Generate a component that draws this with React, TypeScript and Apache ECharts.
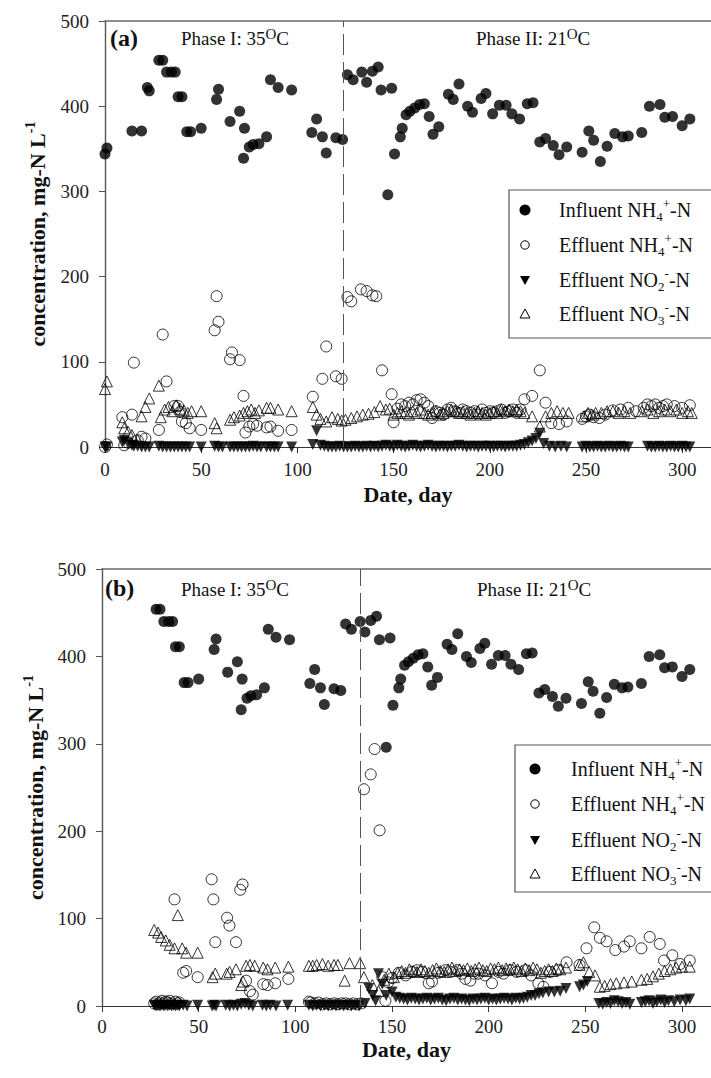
import React, { useEffect, useRef } from 'react';
import * as echarts from 'echarts';

const FONT = 'Liberation Serif';

const xTickValues = [0, 50, 100, 150, 200, 250, 300];
const phaseSplitA = 124;
const phaseSplitB = 133.5;

// Influent NH4+-N  [day, mg-N/L]
const influent: [number, number][] = [
  [0, 344], [1, 351], [14, 371], [19, 371], [22, 422], [23, 418], [28, 454], [30, 454],
  [32, 440], [34.5, 440], [36.5, 440], [38, 411], [40, 411], [42.5, 370], [44.5, 370],
  [50, 374], [58, 408], [59, 420], [65, 382], [70, 394], [72, 339], [72.5, 374],
  [75, 352], [77, 355], [80, 356], [84, 364], [86, 431], [90, 422], [97, 419],
  [107.5, 369], [110, 385], [113, 364], [115, 345], [120, 363], [123.5, 361],
  [126, 437], [129, 431], [133.5, 440], [136, 428], [139, 441], [142, 446], [143.5, 419],
  [147, 296], [149, 421], [150.5, 344], [153.5, 364], [154.5, 374], [156.5, 390],
  [158.5, 394], [161, 398], [163.5, 402], [166, 403], [168.5, 388], [170.5, 367],
  [173.5, 376], [178.5, 414], [181, 408], [184, 426], [188.5, 400], [191, 393],
  [195.5, 409], [198, 415], [201.5, 391], [205, 401], [208.5, 401], [211.5, 391],
  [215.5, 385], [219.5, 403], [222.5, 404], [226, 358], [229, 362], [233, 354],
  [236, 343], [240, 352], [248, 346], [251.5, 371], [254, 360], [257.5, 335],
  [261, 353], [265, 368], [269, 364], [272, 365], [279, 369], [283, 400],
  [288.5, 402], [291, 387], [295, 388], [300, 377], [304, 385],
];

// (a) Effluent NH4+-N
const aEffNH4: [number, number][] = [
  [0, 0], [1, 3], [9, 35], [10, 2], [12, 5], [14, 38], [15, 99], [17, 8], [19, 12], [21, 10],
  [28, 20], [30, 132], [32, 77], [36, 48], [38, 48], [39, 41], [40, 30], [42, 28], [44, 22],
  [50, 20], [57, 137], [58, 177], [59, 147], [65, 103], [66, 111], [70, 102], [72, 60],
  [73, 17], [75, 24], [77, 27], [79, 25], [84, 23], [86, 24], [90, 19], [97, 20],
  [108, 59], [113, 80], [115, 118], [120, 83], [123, 80], [126, 176], [128, 171],
  [133, 185], [136, 183], [139, 178], [141, 177], [144, 90], [149, 62], [150, 29],
  [152, 45], [154, 50], [156, 48], [158, 52], [160, 50], [162, 55], [164, 56], [166, 52],
  [168, 48], [170, 34], [172, 42], [174, 40], [176, 38], [178, 44], [180, 46], [182, 42],
  [184, 40], [186, 44], [188, 42], [190, 40], [192, 42], [194, 38], [196, 44], [198, 40],
  [200, 42], [202, 40], [204, 42], [206, 44], [208, 40], [210, 42], [212, 44], [214, 40],
  [216, 44], [218, 56], [222, 60], [226, 90], [229, 52], [232, 28], [236, 27], [240, 30],
  [248, 33], [250, 36], [252, 38], [254, 35], [257, 34], [260, 38], [264, 43], [268, 44],
  [272, 46], [276, 42], [280, 46], [282, 50], [284, 48], [286, 50], [288, 46], [290, 48],
  [292, 50], [296, 48], [300, 46], [304, 49],
];

// (a) Effluent NO2--N
const aEffNO2: [number, number][] = [
  [0, 0], [1, 0], [9, 6], [10, 8], [12, 4], [14, 2], [15, 1], [17, 1], [19, 0], [21, 0],
  [23, 0], [28, 1], [30, 0], [32, 0], [34, 0], [36, 0], [38, 0], [40, 0], [42, 0], [44, 0],
  [50, 0], [57, 1], [59, 0], [61, 0], [65, 0], [67, 0], [69, 0], [71, 0], [73, 0], [75, 0],
  [77, 1], [79, 0], [81, 0], [84, 0], [86, 0], [88, 0], [90, 0], [97, 0], [108, 3],
  [110, 19], [112, 2], [114, 1], [116, 0], [118, 0], [120, 0], [122, 1], [124, 0],
  [126, 0], [128, 0], [130, 1], [132, 0], [134, 0], [136, 1], [138, 0], [140, 1],
  [142, 0], [144, 1], [146, 2], [148, 1], [150, 0], [152, 2], [154, 1], [156, 0],
  [158, 1], [160, 2], [162, 1], [164, 0], [166, 1], [168, 2], [170, 1], [172, 0],
  [174, 1], [176, 1], [178, 0], [180, 1], [182, 1], [184, 2], [186, 1], [188, 0],
  [190, 1], [192, 1], [194, 0], [196, 1], [198, 1], [200, 1], [202, 0], [204, 1],
  [206, 1], [208, 0], [210, 1], [212, 1], [214, 1], [216, 2], [218, 3], [220, 5],
  [222, 7], [224, 10], [226, 16], [228, 4], [231, 1], [234, 0], [237, 1], [240, 0],
  [248, 0], [250, 1], [252, 0], [254, 0], [256, 1], [258, 0], [260, 0], [262, 1],
  [264, 0], [266, 0], [268, 1], [270, 0], [272, 0], [282, 1], [284, 0], [286, 0],
  [288, 1], [290, 0], [292, 0], [294, 1], [296, 0], [298, 0], [300, 1], [302, 0], [304, 0],
];

// (a) Effluent NO3--N
const aEffNO3: [number, number][] = [
  [0, 68], [1, 77], [9, 29], [10, 22], [12, 18], [14, 14], [17, 8], [19, 36], [21, 47],
  [23, 57], [28, 72], [29, 35], [31, 44], [33, 47], [35, 42], [37, 49], [39, 45], [41, 43],
  [43, 40], [45, 42], [50, 42], [57, 28], [58, 22], [65, 32], [67, 35], [70, 37], [72, 40],
  [74, 42], [76, 44], [78, 40], [80, 43], [84, 46], [86, 46], [90, 44], [97, 42],
  [108, 47], [110, 38], [112, 33], [115, 30], [118, 35], [121, 33], [123, 31], [125, 32],
  [128, 34], [131, 36], [134, 38], [137, 39], [140, 41], [143, 48], [146, 44], [148, 45],
  [150, 38], [152, 40], [154, 42], [156, 40], [158, 38], [160, 42], [162, 40], [164, 44],
  [166, 40], [168, 38], [170, 40], [172, 42], [174, 38], [176, 40], [178, 42], [180, 44],
  [182, 42], [184, 40], [186, 42], [188, 40], [190, 38], [192, 40], [194, 42], [196, 40],
  [198, 38], [200, 40], [202, 42], [204, 40], [206, 44], [208, 42], [210, 44], [212, 42],
  [214, 44], [216, 42], [218, 40], [222, 36], [226, 24], [229, 36], [232, 40], [235, 42],
  [238, 40], [241, 40], [249, 36], [251, 40], [253, 38], [255, 40], [258, 40], [261, 42],
  [264, 42], [267, 40], [270, 42], [273, 40], [279, 42], [282, 44], [285, 40], [288, 42],
  [291, 44], [294, 42], [297, 44], [300, 40], [303, 42], [305, 40],
];

// (b) Effluent NH4+-N
const bEffNH4: [number, number][] = [
  [27, 3], [28, 5], [29, 2], [30, 4], [31, 6], [32, 3], [33, 5], [34, 4], [35, 6], [36, 3],
  [37.5, 122], [38, 5], [39, 3], [40, 4], [42, 38], [43.5, 40], [49.5, 33], [56.7, 145],
  [57.6, 122], [58.6, 73], [64.7, 101], [65.9, 92], [69.3, 73], [71.5, 133], [72.7, 139],
  [74.5, 29], [76.5, 17], [78, 13], [83.4, 25], [85.6, 24], [89.6, 26], [96.4, 31],
  [107, 5], [108, 4], [110, 3], [112, 4], [114, 2], [116, 3], [118, 2], [120, 3], [122, 2],
  [124, 3], [126, 3], [128, 2], [130, 3], [132, 2], [134, 3], [135.5, 248], [139, 265],
  [141, 294], [143.6, 201], [145, 33], [146.6, 6], [148, 27], [150, 32], [153.5, 38],
  [157, 35], [160.4, 39], [163, 41], [165.6, 39], [169, 26], [170.7, 28], [174, 38],
  [177.6, 41], [180.2, 39], [183.6, 41], [186, 37], [188, 31], [190.5, 29], [192.5, 37],
  [194.8, 37], [198.2, 35], [201.7, 26], [205.1, 39], [207.7, 37], [211.1, 41],
  [214.5, 39], [218.9, 41], [222, 35], [225.7, 26], [228.3, 22], [231.8, 39], [236, 41],
  [240.3, 50], [247, 47], [250.6, 66], [254.6, 90], [257.5, 78], [261, 74], [265.5, 64],
  [270, 68], [273, 74], [279, 66], [283.3, 79], [288.5, 71], [290.7, 52], [295, 58],
  [299, 48], [304, 52],
];

// (b) Effluent NO2--N
const bEffNO2: [number, number][] = [
  [27, 1], [28, 0], [29, 1], [30, 0], [31, 1], [32, 0], [33, 1], [34, 0], [35, 1], [36, 0],
  [37, 1], [38, 0], [39, 1], [40, 0], [42, 1], [44, 0], [49.5, 1], [57, 0], [58, 1], [59, 0],
  [64, 1], [66, 0], [68, 1], [70, 0], [72, 2], [74, 3], [76, 1], [78, 0], [83, 1], [85, 0],
  [87, 1], [90, 0], [96, 1], [107, 1], [109, 0], [111, 1], [113, 0], [115, 1], [117, 0],
  [119, 1], [121, 0], [123, 1], [125, 0], [127, 1], [129, 0], [131, 1], [133, 0],
  [136, 3], [138, 20], [140, 12], [141.5, 6], [143, 37], [145, 25], [147, 12], [150, 16],
  [152, 10], [154, 9], [156, 8], [158, 7], [160, 9], [162, 8], [164, 7], [166, 8],
  [168, 9], [170, 7], [172, 8], [174, 9], [176, 7], [178, 6], [180, 8], [182, 9],
  [184, 7], [186, 8], [188, 7], [190, 6], [192, 8], [194, 7], [196, 8], [198, 9],
  [200, 7], [202, 8], [204, 7], [206, 8], [208, 9], [210, 8], [212, 7], [214, 9],
  [216, 8], [218, 9], [220, 10], [222, 12], [224, 12], [226, 14], [228, 15], [231, 16],
  [234, 16], [237, 17], [240, 20], [247, 22], [249, 24], [251, 28], [257, 3], [259, 2],
  [261, 4], [263, 3], [265, 6], [267, 5], [269, 3], [271, 4], [273, 2], [279, 4],
  [281, 5], [283, 6], [285, 3], [287, 5], [289, 7], [291, 4], [293, 6], [296, 5],
  [299, 7], [302, 6], [304, 8],
];

// (b) Effluent NO3--N
const bEffNO3: [number, number][] = [
  [27, 87], [29, 84], [30.6, 79], [33, 75], [35, 70], [37.5, 66], [39.2, 104], [41.5, 66],
  [43.5, 61], [49.5, 61], [57.2, 33], [58.6, 37], [64.5, 37], [66, 39], [69.3, 42],
  [72, 24], [73, 28], [74.5, 46], [76.5, 47], [79, 46], [83.4, 44], [85.6, 42], [89.6, 44],
  [96.4, 45], [107, 46], [109, 46], [111, 47], [114, 48], [117, 46], [120, 47], [122, 47],
  [125.5, 29], [128, 49], [133.5, 49], [135.5, 33], [139.8, 24], [143, 17], [146, 30],
  [148.4, 37], [151, 33], [153, 38], [155, 40], [157, 38], [159, 42], [161, 40], [163, 39],
  [165, 42], [167, 40], [169, 38], [171, 41], [173, 43], [175, 40], [177, 39], [179, 42],
  [181, 44], [183, 40], [185, 42], [187, 41], [189, 43], [191, 40], [193, 42], [195, 44],
  [197, 41], [199, 40], [201, 43], [203, 42], [205, 44], [207, 41], [209, 43], [211, 42],
  [213, 44], [215, 42], [217, 40], [219, 43], [221, 41], [223, 44], [225, 42], [227, 38],
  [229, 40], [231, 42], [233, 40], [235, 43], [237, 42], [240, 44], [247, 47], [249, 50],
  [252, 39], [255, 35], [257.5, 22], [260, 23], [263, 25], [266, 26], [270, 27], [274, 28],
  [279, 30], [282, 31], [285, 34], [288, 37], [291, 40], [294, 42], [297, 44], [300, 45],
  [304, 45],
];

const seriesNames = ['Influent NH4+-N', 'Effluent NH4+-N', 'Effluent NO2--N', 'Effluent NO3--N'];
const legendRich = [
  '{m|Influent NH}{sub|4}{sup|+}{m|-N}',
  '{m|Effluent NH}{sub|4}{sup|+}{m|-N}',
  '{m|Effluent NO}{sub|2}{sup|-}{m|-N}',
  '{m|Effluent NO}{sub|3}{sup|-}{m|-N}',
];

const richText = (size: number, subSize: number, lh: number, bold = false) => ({
  m: { fontFamily: FONT, fontSize: size, lineHeight: lh, verticalAlign: 'middle', fill: '#111', color: '#111', fontWeight: bold ? 'bold' : 'normal' },
  sub: { fontFamily: FONT, fontSize: subSize, lineHeight: subSize, verticalAlign: 'bottom', fill: '#111', color: '#111', fontWeight: bold ? 'bold' : 'normal' },
  sup: { fontFamily: FONT, fontSize: subSize, lineHeight: subSize, verticalAlign: 'top', fill: '#111', color: '#111', fontWeight: bold ? 'bold' : 'normal' },
});

function textEl(x: number, y: number, text: string, rich: any) {
  return {
    type: 'text',
    x,
    y,
    silent: true,
    style: { text, rich, align: 'left', verticalAlign: 'middle', textAlign: 'left', textVerticalAlign: 'middle', fill: '#111' },
  };
}

function legendGroup(bx: number, by: number, bh: number, sx: number, tx: number, ys: number[]) {
  const els: any[] = [
    { type: 'rect', shape: { x: bx, y: by, width: 260, height: bh }, style: { fill: '#fff', stroke: '#555', lineWidth: 1.2 }, silent: true },
    { type: 'circle', shape: { cx: sx, cy: ys[0], r: 5.5 }, style: { fill: '#000' }, silent: true },
    { type: 'circle', shape: { cx: sx, cy: ys[1], r: 4.2 }, style: { fill: 'none', stroke: '#000', lineWidth: 1 }, silent: true },
    { type: 'polygon', shape: { points: [[sx - 5, ys[2] - 4], [sx + 5, ys[2] - 4], [sx, ys[2] + 5]] }, style: { fill: '#000' }, silent: true },
    { type: 'polygon', shape: { points: [[sx - 5, ys[3] + 4], [sx + 5, ys[3] + 4], [sx, ys[3] - 5]] }, style: { fill: 'none', stroke: '#000', lineWidth: 1 }, silent: true },
  ];
  ys.forEach((y, i) => els.push(textEl(tx, y, legendRich[i], richText(20, 13, 26))));
  return els;
}

function makeSeries(xi: number, yi: number, split: number, inf: [number, number][], nh4: [number, number][], no2: [number, number][], no3: [number, number][]) {
  return [
    {
      name: seriesNames[0], type: 'scatter', xAxisIndex: xi, yAxisIndex: yi, clip: false,
      symbol: 'circle', symbolSize: 11, itemStyle: { color: '#000' }, data: inf,
      markLine: {
        silent: true, symbol: ['none', 'none'], label: { show: false },
        lineStyle: { color: '#555', width: 1, type: [21, 7] },
        data: [{ xAxis: split }],
      },
    },
    {
      name: seriesNames[1], type: 'scatter', xAxisIndex: xi, yAxisIndex: yi, clip: false,
      symbol: 'circle', symbolSize: 11, itemStyle: { color: 'rgba(0,0,0,0)', borderColor: '#000', borderWidth: 1 }, data: nh4,
    },
    {
      name: seriesNames[2], type: 'scatter', xAxisIndex: xi, yAxisIndex: yi, clip: false,
      symbol: 'triangle', symbolRotate: 180, symbolSize: 11, itemStyle: { color: '#000' }, data: no2,
    },
    {
      name: seriesNames[3], type: 'scatter', xAxisIndex: xi, yAxisIndex: yi, clip: false,
      symbol: 'triangle', symbolSize: 11, itemStyle: { color: 'rgba(0,0,0,0)', borderColor: '#000', borderWidth: 1 }, data: no3,
    },
  ];
}

function xAxes(grid: number, labelMargin: number, nameGap: number) {
  return [
    {
      gridIndex: grid, type: 'value', position: 'bottom', min: 0, max: 315,
      axisLine: { show: true, onZero: false, lineStyle: { color: '#333', width: 1.2 } },
      axisTick: { show: true, length: 6, customValues: xTickValues, lineStyle: { color: '#333' } },
      axisLabel: { customValues: xTickValues, margin: labelMargin, fontFamily: FONT, fontSize: 19, color: '#222' },
      splitLine: { show: false },
      name: 'Date, day', nameLocation: 'middle', nameGap,
      nameTextStyle: { fontFamily: FONT, fontSize: 22, fontWeight: 'bold', color: '#111' },
    },
    {
      gridIndex: grid, type: 'value', position: 'top', min: 0, max: 315,
      axisLine: { show: true, onZero: false, lineStyle: { color: '#6a6a6a', width: 1.6 } },
      axisTick: { show: false }, axisLabel: { show: false }, splitLine: { show: false },
    },
  ];
}

function yAxis(grid: number, nameGap: number) {
  return {
    gridIndex: grid, type: 'value', min: 0, max: 500, interval: 100,
    axisLine: { show: true, onZero: false, lineStyle: { color: '#555', width: 1.4 } },
    axisTick: { show: true, length: 6, lineStyle: { color: '#555' } },
    axisLabel: { margin: 16, fontFamily: FONT, fontSize: 19, color: '#222' },
    splitLine: { show: false },
    name: '{m|concentration, mg-N L}{sup|-1}', nameLocation: 'middle', nameGap,
    nameTextStyle: { fontFamily: FONT, fontSize: 22, fontWeight: 'bold', color: '#111', rich: richText(22, 14, 28, true) },
  };
}

const phaseRich = richText(19, 15, 24);

export default function App() {
  const ref = useRef<HTMLDivElement>(null);
  useEffect(() => {
    if (!ref.current) return;
    const chart = echarts.init(ref.current, null, { renderer: 'svg' });
    const bInfluent = influent.filter((p) => p[0] >= 27);
    const option: any = {
      animation: false,
      backgroundColor: '#fff',
      textStyle: { fontFamily: FONT },
      grid: [
        { left: 105, top: 21, width: 606, height: 426 },
        { left: 102, top: 569, width: 609, height: 437 },
      ],
      xAxis: [...xAxes(0, 13, 36), ...xAxes(1, 11, 32)],
      yAxis: [yAxis(0, 54), yAxis(1, 52)],
      series: [
        ...makeSeries(0, 0, phaseSplitA, influent, aEffNH4, aEffNO2, aEffNO3),
        ...makeSeries(2, 1, phaseSplitB, bInfluent, bEffNH4, bEffNO2, bEffNO3),
      ],
      graphic: [
        { type: 'text', x: 110, y: 38, silent: true, style: { text: '(a)', fontFamily: FONT, fontSize: 24, fontWeight: 'bold', fill: '#111', align: 'left', verticalAlign: 'middle', textAlign: 'left', textVerticalAlign: 'middle' } },
        textEl(181, 38, '{m|Phase I: 35}{sup|O}{m|C}', phaseRich),
        textEl(476, 38, '{m|Phase II: 21}{sup|O}{m|C}', phaseRich),
        { type: 'text', x: 105, y: 588, silent: true, style: { text: '(b)', fontFamily: FONT, fontSize: 24, fontWeight: 'bold', fill: '#111', align: 'left', verticalAlign: 'middle', textAlign: 'left', textVerticalAlign: 'middle' } },
        textEl(181, 589, '{m|Phase I: 35}{sup|O}{m|C}', phaseRich),
        textEl(477, 589, '{m|Phase II: 21}{sup|O}{m|C}', phaseRich),
        ...legendGroup(509, 190, 148, 525, 559, [210, 245, 280, 314]),
        ...legendGroup(515, 745, 147, 535, 571, [769, 804, 840, 874]),
      ],
    };
    chart.setOption(option);
    return () => chart.dispose();
  }, []);
  return <div ref={ref} style={{ position: 'absolute', left: 0, top: 0, width: 711, height: 1078, background: '#fff' }} />;
}
